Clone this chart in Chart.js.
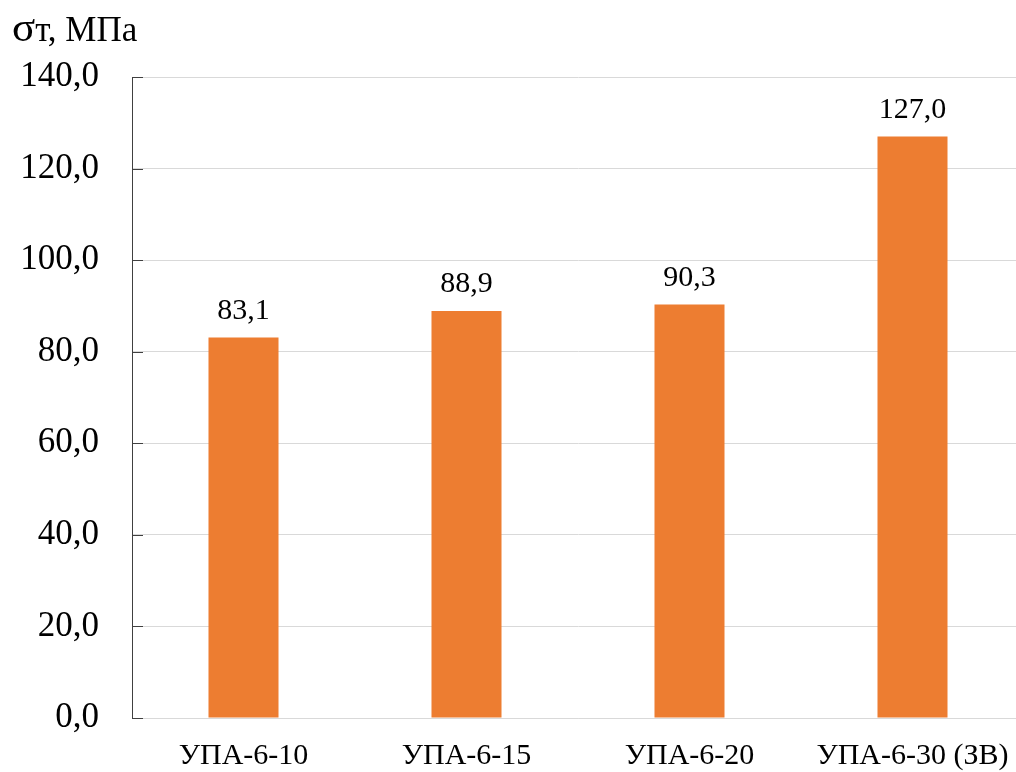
<!DOCTYPE html>
<html>
<head>
<meta charset="utf-8">
<script src="https://cdn.jsdelivr.net/npm/chart.js@4.4.1/dist/chart.umd.min.js"></script>
<style>
  html, body { margin: 0; padding: 0; background: #ffffff; overflow: hidden; }
  #wrap { position: relative; width: 1040px; height: 772px; }
</style>
</head>
<body>
<div id="wrap"><canvas id="chart" width="1040" height="772"></canvas></div>
<script>
// Yield strength of the samples, MPa
const categories = ['УПА-6-10', 'УПА-6-15', 'УПА-6-20', 'УПА-6-30 (ЗВ)'];
const yieldStrength = [83.1, 88.9, 90.3, 127.0];
const yTicks = [0, 20, 40, 60, 80, 100, 120, 140];

const SERIF = '"Liberation Serif", "Times New Roman", serif';
const fmt = v => v.toFixed(1).replace('.', ',');

// Axis caption "σт, МПа" in the top-left corner
const captionPlugin = {
  id: 'caption',
  afterDraw(chart) {
    const ctx = chart.ctx;
    ctx.save();
    ctx.fillStyle = '#000';
    ctx.textBaseline = 'alphabetic';
    ctx.textAlign = 'left';
    let x = 12;
    const y = 41;
    ctx.font = '43px ' + SERIF;
    ctx.fillText('σ', x, y);
    x += ctx.measureText('σ').width;
    ctx.font = '35px ' + SERIF;
    ctx.fillText('т, МПа', x, y);
    ctx.restore();
  }
};

// Short inward tick marks on the value axis
const innerTicksPlugin = {
  id: 'innerTicks',
  afterDraw(chart) {
    const ctx = chart.ctx;
    const ys = chart.scales.y;
    const left = chart.chartArea.left;
    ctx.save();
    ctx.strokeStyle = '#404040';
    ctx.lineWidth = 1;
    ys.ticks.forEach(t => {
      const py = Math.round(ys.getPixelForValue(t.value)) + 0.5;
      ctx.beginPath();
      ctx.moveTo(left, py);
      ctx.lineTo(left + 11, py);
      ctx.stroke();
    });
    ctx.restore();
  }
};

// Value labels above the bars
const valueLabelsPlugin = {
  id: 'valueLabels',
  afterDatasetsDraw(chart) {
    const ctx = chart.ctx;
    const meta = chart.getDatasetMeta(0);
    const data = chart.data.datasets[0].data;
    ctx.save();
    ctx.font = '30px ' + SERIF;
    ctx.fillStyle = '#000';
    ctx.textAlign = 'center';
    ctx.textBaseline = 'alphabetic';
    meta.data.forEach((bar, i) => {
      ctx.fillText(fmt(data[i]), bar.x, bar.y - 19);
    });
    ctx.restore();
  }
};

new Chart(document.getElementById('chart'), {
  type: 'bar',
  data: {
    labels: categories,
    datasets: [{
      data: yieldStrength,
      backgroundColor: '#ED7D31',
      borderWidth: 0,
      categoryPercentage: 1.0,
      barPercentage: 0.314
    }]
  },
  options: {
    responsive: false,
    animation: false,
    devicePixelRatio: 1,
    layout: { padding: { top: 77, right: 16, left: 0, bottom: 0 } },
    plugins: {
      legend: { display: false },
      tooltip: { enabled: false }
    },
    scales: {
      x: {
        grid: { display: false, drawTicks: false },
        border: { display: true, color: '#d9d9d9', width: 1 },
        ticks: {
          color: '#000',
          font: { family: SERIF, size: 30 },
          padding: 20,
          maxRotation: 0,
          autoSkip: false
        },
        afterFit(scale) { scale.height = 54; }
      },
      y: {
        min: 0,
        max: 140,
        afterBuildTicks(scale) {
          scale.ticks = yTicks.map(v => ({ value: v }));
        },
        grid: { color: '#d9d9d9', lineWidth: 1, drawTicks: false },
        border: { display: true, color: '#404040', width: 1 },
        ticks: {
          color: '#000',
          font: { family: SERIF, size: 35 },
          padding: 33,
          callback: v => fmt(v)
        },
        afterFit(scale) { scale.width = 132; }
      }
    }
  },
  plugins: [captionPlugin, innerTicksPlugin, valueLabelsPlugin]
});
</script>
</body>
</html>
